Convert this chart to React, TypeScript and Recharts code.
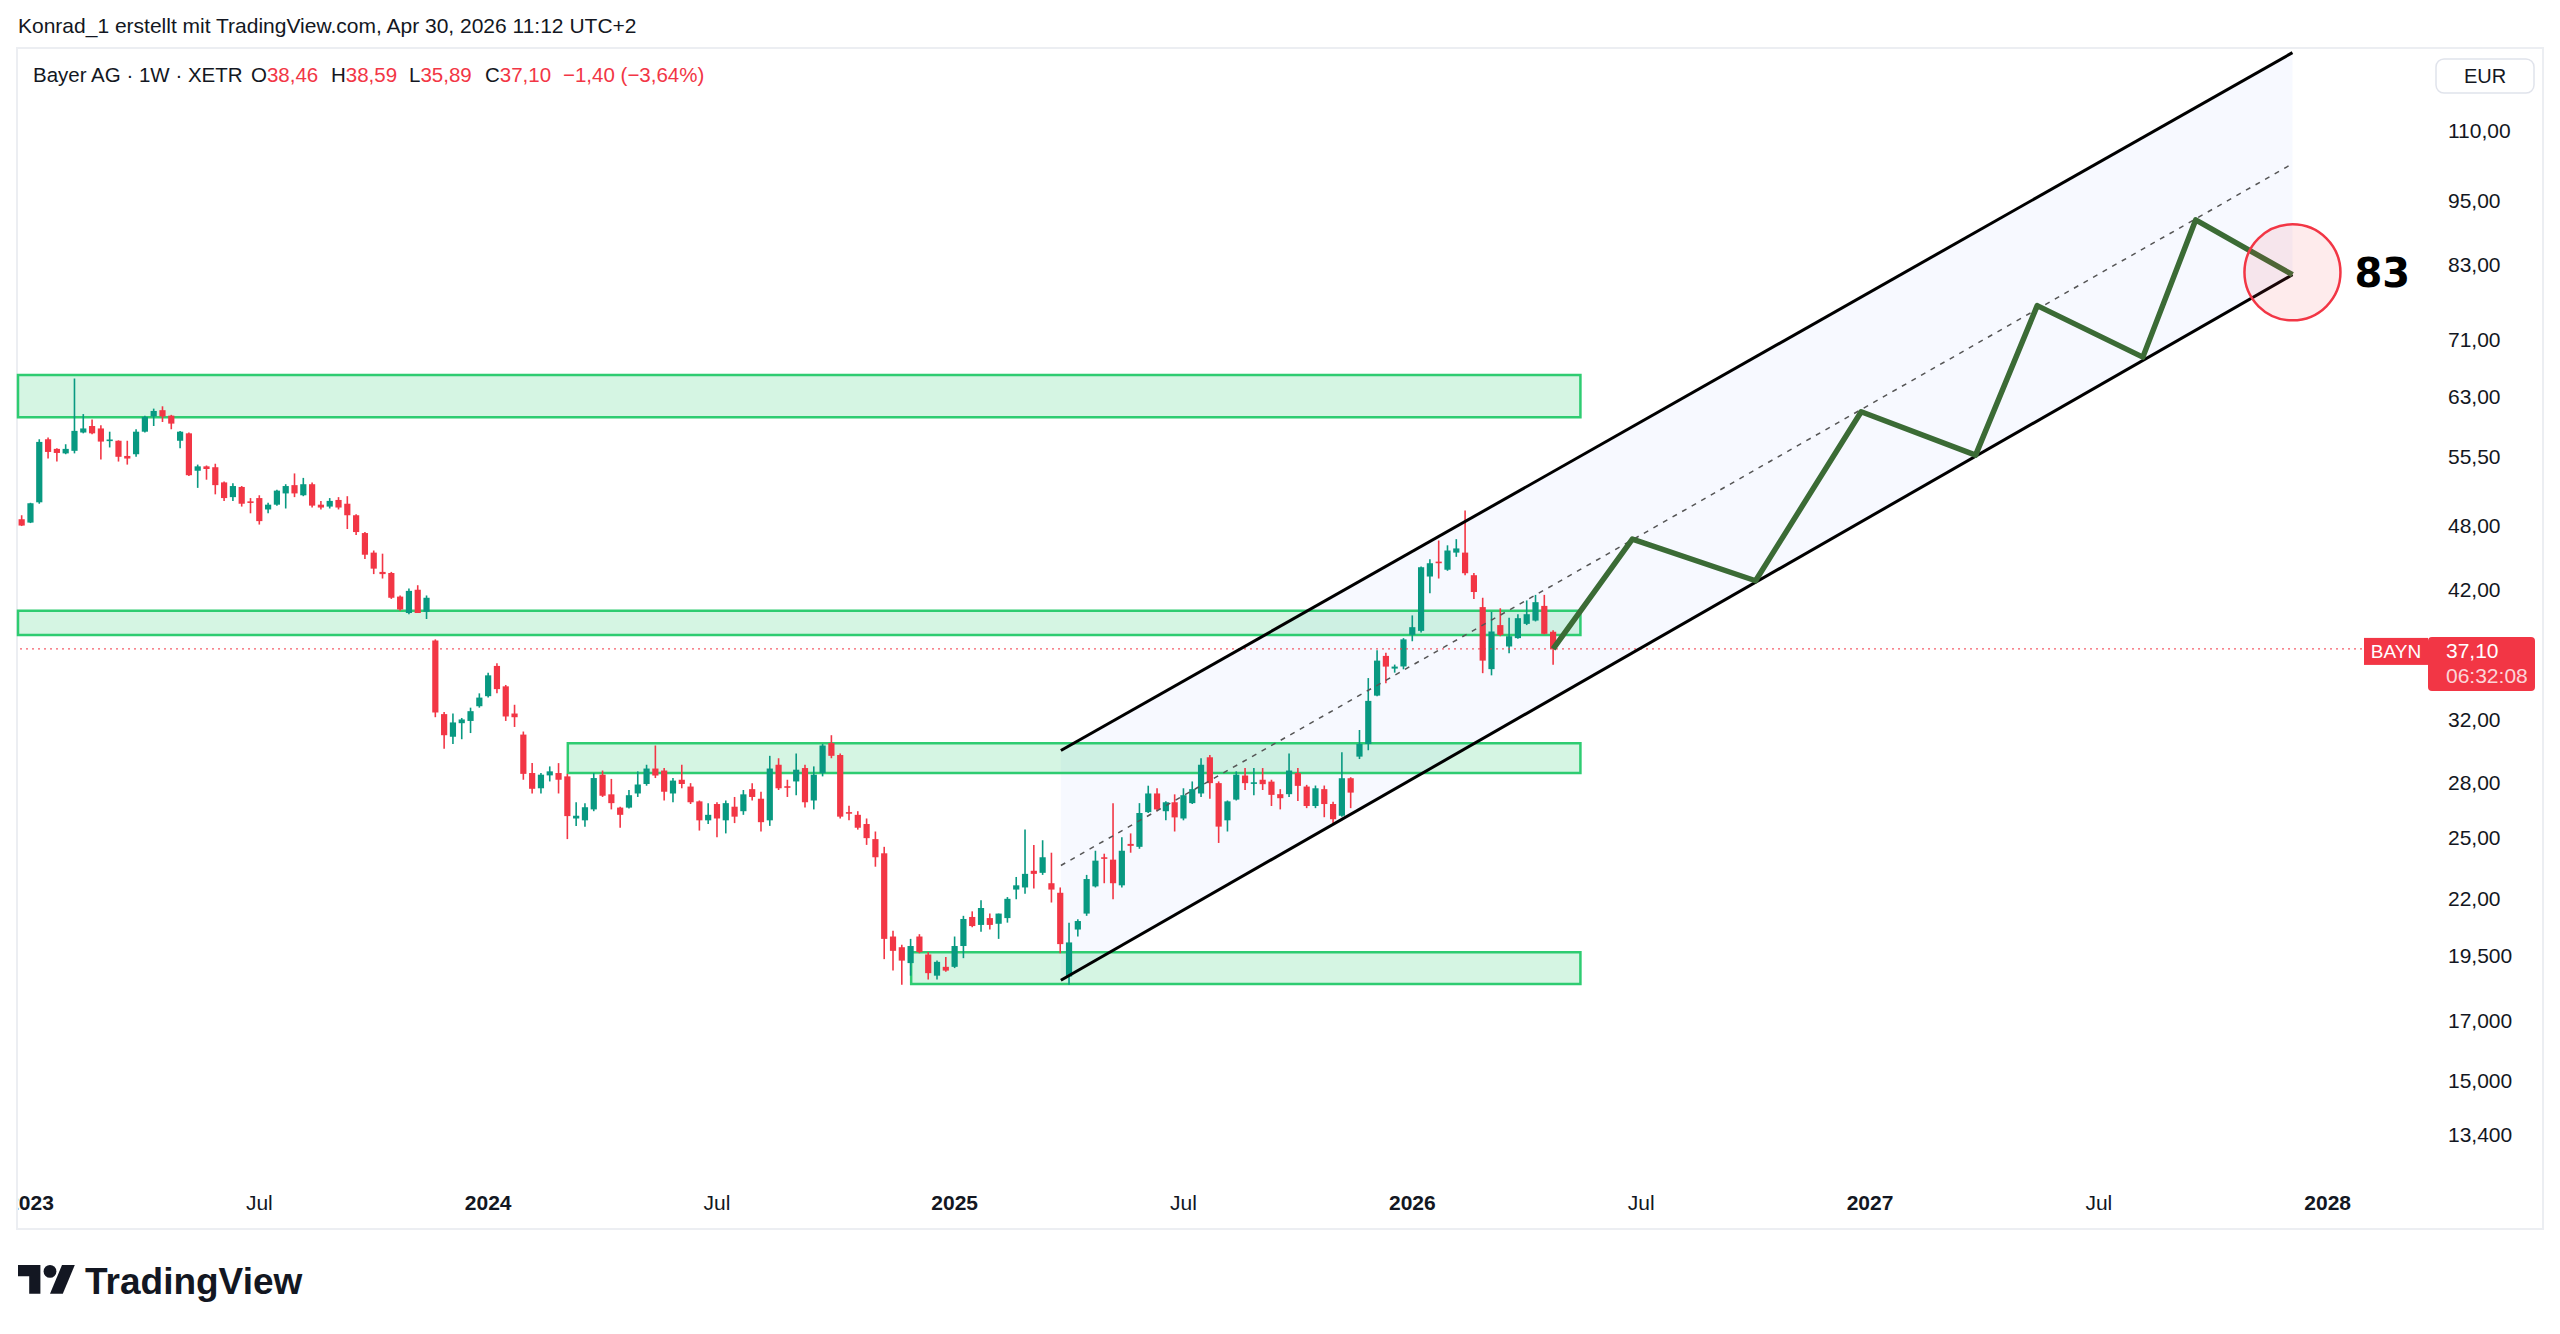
import React from "react";
import {
  ComposedChart,
  Bar,
  Line,
  Area,
  XAxis,
  YAxis,
  ReferenceArea,
  ReferenceLine,
  ReferenceDot,
} from "recharts";

const FONT = '"Liberation Sans", Arial, sans-serif';
const UP = "#089981";
const DOWN = "#f23645";
const INK = "#131722";

// weekly bars, index 0 = week of 2 Jan 2023; first bar is week -1
const FIRST_WEEK = -1;

const opens = [
  48.69, 48.35, 50.45, 57.58, 56.43, 55.9, 56.2, 58.4, 59.2, 58.9,
  57.45, 57.4, 55.6, 55.8, 58.5, 60.4, 61.2, 60.5, 57.4, 58.3,
  53.9, 54.4, 54.3, 52.6, 51.0, 52.1, 50.55, 50.9, 49.7, 50.2,
  51.4, 52.3, 51.2, 52.4, 50.2, 50.0, 50.7, 50.3, 49.1, 47.3,
  45.4, 43.6, 43.5, 41.4, 40.0, 42.0, 40.1, 37.76, 32.36, 30.86,
  31.75, 31.9, 32.9, 33.6, 35.8, 34.3, 32.4, 31.0, 28.6, 27.7,
  28.46, 28.6, 28.4, 26.0, 25.9, 26.5, 28.5, 27.35, 26.6, 26.6,
  27.4, 27.95, 28.87, 28.75, 27.4, 28.2, 27.8, 26.95, 25.9, 26.8,
  25.9, 26.65, 26.4, 27.65, 27.1, 25.9, 29.1, 27.82, 28.1, 28.9,
  27.0, 28.6, 30.45, 29.7, 26.35, 26.2, 25.7, 24.9, 24.17, 20.3,
  19.85, 19.2, 20.3, 19.55, 18.7, 19.05, 19.05, 19.9, 21.15, 20.8,
  21.1, 20.85, 21.1, 22.4, 22.5, 23.3, 23.2, 22.7, 22.25, 18.67,
  20.6, 21.3, 22.55, 23.97, 23.85, 22.6, 24.65, 24.5, 26.35, 27.4,
  26.4, 26.9, 26.0, 26.85, 27.4, 29.56, 28.0, 25.9, 27.05, 28.45,
  28.0, 28.2, 28.09, 27.36, 27.36, 28.6, 27.8, 26.69, 27.65, 26.8,
  26.15, 28.29, 29.6, 30.4, 33.64, 36.56, 35.6, 35.76, 38.21, 38.53,
  43.18, 44.55, 43.8, 45.4, 45.4, 43.3, 40.5, 35.56, 39.0, 37.29,
  37.95, 39.1, 39.37, 40.6, 38.46,
];

const highs = [
  49.1, 50.4, 57.58, 57.8, 56.5, 56.98, 65.4, 60.7, 60.0, 59.3,
  58.5, 57.45, 57.4, 58.8, 60.5, 61.4, 61.7, 60.6, 58.6, 58.4,
  54.6, 54.5, 54.7, 52.7, 52.5, 52.2, 50.9, 51.2, 50.4, 51.8,
  52.4, 53.6, 53.1, 52.6, 50.6, 50.9, 51.0, 51.1, 49.2, 47.4,
  45.6, 45.3, 43.6, 41.5, 42.1, 42.4, 41.5, 37.85, 32.5, 32.4,
  32.1, 32.8, 33.8, 35.3, 36.0, 34.4, 33.0, 31.2, 29.2, 28.6,
  29.0, 29.2, 28.55, 26.9, 26.85, 28.6, 28.75, 28.25, 26.65, 27.6,
  28.7, 29.1, 30.3, 28.9, 28.3, 29.1, 28.0, 27.0, 26.85, 26.9,
  27.0, 27.2, 27.6, 28.0, 27.5, 29.65, 29.5, 28.2, 29.8, 29.1,
  29.0, 30.4, 30.96, 29.8, 26.7, 26.4, 26.0, 25.3, 24.5, 20.55,
  19.95, 20.2, 20.4, 19.65, 19.3, 19.45, 20.3, 21.2, 21.4, 21.9,
  21.3, 21.3, 22.05, 23.0, 25.4, 24.6, 24.84, 24.2, 22.5, 20.9,
  21.05, 23.1, 24.3, 24.15, 26.85, 25.0, 25.2, 26.85, 27.85, 27.7,
  26.95, 27.35, 27.7, 28.1, 29.5, 29.7, 28.1, 27.0, 28.7, 28.9,
  28.9, 28.9, 28.2, 27.65, 29.8, 28.9, 27.9, 27.86, 27.86, 26.93,
  29.87, 28.35, 31.3, 34.9, 37.0, 36.8, 35.9, 37.95, 39.8, 44.1,
  44.78, 46.57, 46.1, 46.7, 49.6, 43.5, 41.3, 40.1, 40.4, 39.6,
  39.9, 41.07, 41.55, 41.55, 38.59,
];

const lows = [
  48.0, 48.3, 50.3, 55.3, 54.95, 55.8, 55.9, 58.3, 58.2, 55.2,
  56.6, 54.95, 54.6, 55.5, 58.4, 59.2, 59.7, 58.8, 56.5, 53.3,
  52.0, 52.9, 51.3, 50.6, 50.6, 50.0, 49.3, 48.15, 49.3, 50.1,
  49.8, 51.0, 51.1, 49.9, 49.7, 49.8, 49.7, 47.7, 47.1, 44.8,
  43.4, 43.0, 41.2, 40.2, 39.9, 40.0, 39.5, 32.15, 30.1, 30.4,
  30.7, 31.1, 32.8, 33.5, 33.8, 31.9, 31.5, 28.2, 27.4, 27.4,
  28.1, 27.4, 24.9, 25.6, 25.55, 26.4, 27.2, 26.5, 25.5, 26.55,
  27.2, 27.85, 28.3, 27.0, 26.9, 27.7, 26.8, 25.35, 25.7, 25.0,
  25.2, 25.75, 26.2, 27.0, 25.3, 25.6, 27.6, 27.2, 27.3, 26.6,
  26.5, 28.4, 29.5, 26.0, 25.9, 25.4, 24.6, 23.5, 19.36, 18.9,
  18.35, 18.7, 19.6, 18.55, 18.55, 18.85, 19.0, 19.4, 20.7, 20.5,
  20.6, 20.2, 20.9, 21.95, 22.2, 22.45, 23.1, 21.8, 19.6, 18.35,
  20.3, 21.2, 22.5, 22.7, 21.95, 22.5, 24.2, 24.4, 26.3, 26.4,
  25.9, 25.3, 25.9, 26.8, 27.2, 27.1, 24.7, 25.3, 27.0, 27.6,
  27.3, 27.6, 26.69, 26.5, 27.2, 26.97, 26.57, 26.57, 26.07, 25.74,
  26.1, 26.57, 29.45, 30.0, 33.6, 34.52, 35.3, 35.55, 37.7, 38.4,
  41.7, 43.0, 43.7, 45.0, 43.3, 41.2, 35.26, 35.1, 38.1, 36.76,
  37.9, 39.0, 39.3, 38.25, 35.89,
];

const closes = [
  48.05, 50.35, 57.26, 56.07, 55.95, 56.43, 58.6, 58.9, 58.3, 57.3,
  57.55, 55.5, 55.3, 58.5, 60.35, 61.1, 60.4, 59.5, 58.5, 53.4,
  54.4, 54.1, 52.3, 50.9, 52.2, 50.3, 50.45, 48.5, 50.2, 51.7,
  52.2, 51.4, 52.4, 50.1, 49.9, 50.6, 49.9, 49.1, 47.4, 45.2,
  43.9, 43.4, 41.3, 40.3, 41.9, 40.0, 41.3, 32.47, 30.96, 31.8,
  32.0, 32.56, 33.5, 35.1, 34.1, 32.2, 32.15, 28.55, 27.67, 28.5,
  28.7, 28.2, 26.13, 26.15, 26.62, 28.3, 27.27, 26.85, 26.2, 27.3,
  27.92, 28.87, 28.45, 27.5, 28.15, 27.95, 26.9, 25.9, 26.2, 26.0,
  26.85, 26.1, 27.35, 27.2, 25.8, 28.87, 27.7, 27.78, 28.8, 26.9,
  28.5, 30.3, 29.65, 26.1, 26.3, 25.5, 24.95, 23.97, 20.2, 19.7,
  19.3, 19.9, 19.65, 18.8, 19.25, 18.9, 19.9, 21.06, 20.75, 21.55,
  20.8, 21.3, 21.97, 22.6, 23.15, 23.15, 23.97, 22.4, 19.98, 20.05,
  20.97, 22.9, 23.8, 23.9, 22.7, 24.3, 24.55, 26.3, 27.4, 26.5,
  26.9, 26.06, 27.3, 27.65, 29.1, 28.0, 25.56, 26.95, 28.5, 28.0,
  28.05, 27.94, 27.32, 27.13, 28.75, 27.84, 26.69, 27.7, 26.8, 25.96,
  28.29, 27.45, 30.4, 33.27, 36.2, 35.75, 35.75, 37.85, 38.83, 44.03,
  44.4, 44.45, 45.6, 45.8, 43.48, 41.8, 36.2, 38.48, 38.21, 38.1,
  39.57, 39.9, 40.92, 38.29, 37.1,
];

// time scale labels sit on the first weekly bar of the period
const xTickWeeks = [0, 26, 52, 78, 105, 131, 157, 183, 209, 235, 261];
const xTickLabels = ["2023", "Jul", "2024", "Jul", "2025", "Jul", "2026", "Jul", "2027", "Jul", "2028"];

const yTicks = [110, 95, 83, 71, 63, 55.5, 48, 42, 32, 28, 25, 22, 19.5, 17, 15, 13.4];
const yTickLabels = [
  "110,00", "95,00", "83,00", "71,00", "63,00", "55,50", "48,00", "42,00",
  "32,00", "28,00", "25,00", "22,00", "19,500", "17,000", "15,000", "13,400",
];

// green support / resistance boxes (null = from the left edge)
const zoneFrom = [null, null, 61.05, 100.06];
const zoneTo = [176.1, 176.1, 176.1, 176.1];
const zoneLow = [60.3, 38.2, 28.6, 18.38];
const zoneHigh = [65.9, 40.2, 30.45, 19.64];

// parallel channel anchors
const channelWeeks = [117.07, 257];
const channelLow = [18.52, 81.3];
const channelHigh = [29.98, 129.5];
const channelMid = [23.56, 102.6];

// projected path
const projWeeks = [173, 182, 196, 208, 221, 228, 240, 246, 257];
const projPrices = [37.1, 46.7, 42.8, 61.0, 55.7, 76.2, 68.4, 91.2, 81.3];

const lastPrice = 37.1;
const target = 83;
const targetPrice = 81.7;

const rows = new Map<number, any>();
const row = (w: number) => {
  if (!rows.has(w)) rows.set(w, { w });
  return rows.get(w);
};
opens.forEach((o, i) => {
  const r = row(FIRST_WEEK + i);
  r.o = o;
  r.h = highs[i];
  r.l = lows[i];
  r.c = closes[i];
});
channelWeeks.forEach((w, i) => {
  row(w).band = [channelLow[i], channelHigh[i]];
});
projWeeks.forEach((w, i) => {
  row(w).proj = projPrices[i];
});
const data = [...rows.values()].sort((a, b) => a.w - b.w);

const fmt = (v: number) => v.toFixed(2).replace(".", ",");

function Candle(props: any) {
  const { x, y, width, height, payload } = props;
  if (!payload || payload.o == null || !isFinite(y) || !isFinite(height)) return null;
  const { o, h, l, c } = payload;
  const top = Math.min(y, y + height);
  const span = Math.abs(height);
  const lnH = Math.log(h);
  const lnL = Math.log(l);
  // log scale: pixel position is linear in ln(price) between high and low
  const py = (p: number) => (lnH === lnL ? top : top + ((lnH - Math.log(p)) / (lnH - lnL)) * span);
  const cx = x + width / 2;
  const color = c >= o ? UP : DOWN;
  const bTop = py(Math.max(o, c));
  const bBot = py(Math.min(o, c));
  return (
    <g>
      <line x1={cx} x2={cx} y1={top} y2={top + span} stroke={color} strokeWidth={1.6} />
      <rect x={cx - 3.1} y={bTop} width={6.2} height={Math.max(bBot - bTop, 1.6)} fill={color} />
    </g>
  );
}

function XTick(props: any) {
  const { x, y, payload } = props;
  const i = xTickWeeks.indexOf(payload.value);
  const label = xTickLabels[i] ?? "";
  return (
    <text
      x={x}
      y={y}
      dy="0.35em"
      textAnchor="middle"
      fontFamily={FONT}
      fontSize={21}
      fontWeight={label === "Jul" ? 400 : 700}
      fill={INK}
      clipPath="url(#paneClip)"
    >
      {label}
    </text>
  );
}

function YTick(props: any) {
  const { x, y, payload } = props;
  const i = yTicks.indexOf(payload.value);
  return (
    <text x={x} y={y} dy="0.35em" textAnchor="start" fontFamily={FONT} fontSize={21} fill={INK}>
      {yTickLabels[i]}
    </text>
  );
}

function PriceTag(props: any) {
  const vb = props.viewBox;
  if (!vb) return null;
  const right = vb.x + vb.width;
  const y = vb.y;
  return (
    <g fontFamily={FONT}>
      <rect x={right - 64} y={y - 11} width={64} height={27} fill={DOWN} />
      <text x={right - 32} y={y + 2.5} dy="0.35em" textAnchor="middle" fill="#fff" fontSize={19}>
        BAYN
      </text>
      <rect x={right} y={y - 12} width={107} height={54} rx={4} fill={DOWN} />
      <text x={right + 18} y={y + 2} dy="0.35em" fill="#fff" fontSize={21}>
        {fmt(lastPrice)}
      </text>
      <text x={right + 18} y={y + 27} dy="0.35em" fill="#fff" fillOpacity={0.8} fontSize={21}>
        06:32:08
      </text>
    </g>
  );
}

function TargetMark(props: any) {
  const { cx, cy, r } = props;
  return (
    <g>
      <circle cx={cx} cy={cy} r={r} fill={DOWN} fillOpacity={0.1} stroke={DOWN} strokeWidth={2.5} />
      <text x={cx + 62} y={cy} dy="0.36em" fontFamily='"DejaVu Sans", sans-serif' fontWeight={700} fontSize={40} fill="#000">
        {target}
      </text>
    </g>
  );
}

export default function App() {
  return (
    <div style={{ position: "absolute", left: 0, top: 0, width: 2560, height: 1334, background: "#fff", overflow: "hidden" }}>
      <div
        style={{
          position: "absolute",
          left: 16,
          top: 47,
          width: 2528,
          height: 1183,
          border: "2px solid #eceef2",
          boxSizing: "border-box",
        }}
      />
      <div style={{ position: "absolute", left: 0, top: 0 }}>
        <ComposedChart width={2560} height={1334} data={data} margin={{ top: 49, right: 18, bottom: 106, left: 18 }}>
          <defs>
            <clipPath id="paneClip">
              <rect x={18} y={0} width={2410} height={1334} />
            </clipPath>
          </defs>
          <XAxis
            type="number"
            dataKey="w"
            domain={[-1.42, 272.4]}
            allowDataOverflow
            ticks={xTickWeeks}
            interval={0}
            tick={(p: any) => <XTick {...p} />}
            tickLine={false}
            axisLine={false}
            tickSize={0}
            tickMargin={24}
            height={49}
          />
          <YAxis
            orientation="right"
            type="number"
            scale="log"
            domain={[12.21, 130.5]}
            allowDataOverflow
            ticks={yTicks}
            interval={0}
            width={114}
            tick={(p: any) => <YTick {...p} />}
            tickLine={false}
            axisLine={false}
            tickSize={0}
            tickMargin={20}
          />
          <Area
            dataKey="band"
            type="linear"
            stroke="none"
            fill="#2962ff"
            fillOpacity={0.035}
            connectNulls
            dot={false}
            activeDot={false}
            isAnimationActive={false}
          />
          {zoneLow.map((lo, i) => (
            <ReferenceArea
              key={i}
              x1={zoneFrom[i] ?? undefined}
              x2={zoneTo[i]}
              y1={lo}
              y2={zoneHigh[i]}
              fill="#2ecc71"
              fillOpacity={0.2}
              stroke="#2ecc71"
              strokeWidth={2.5}
              ifOverflow="visible"
            />
          ))}
          <Bar
            dataKey={(d: any) => (d.o != null ? [d.l, d.h] : null)}
            barSize={7}
            shape={(p: any) => <Candle {...p} />}
            isAnimationActive={false}
          />
          <ReferenceLine
            y={lastPrice}
            stroke={DOWN}
            strokeOpacity={0.8}
            strokeWidth={1.2}
            strokeDasharray="2 4"
            label={(p: any) => <PriceTag {...p} />}
          />
          <ReferenceLine
            segment={[
              { x: channelWeeks[0], y: channelHigh[0] },
              { x: channelWeeks[1], y: channelHigh[1] },
            ]}
            stroke="#000"
            strokeWidth={3}
            ifOverflow="visible"
          />
          <ReferenceLine
            segment={[
              { x: channelWeeks[0], y: channelLow[0] },
              { x: channelWeeks[1], y: channelLow[1] },
            ]}
            stroke="#000"
            strokeWidth={3}
            ifOverflow="visible"
          />
          <ReferenceLine
            segment={[
              { x: channelWeeks[0], y: channelMid[0] },
              { x: channelWeeks[1], y: channelMid[1] },
            ]}
            stroke="#555"
            strokeWidth={1.5}
            strokeDasharray="5 6"
            ifOverflow="visible"
          />
          <Line
            dataKey="proj"
            type="linear"
            stroke="#3b6b35"
            strokeWidth={5.5}
            strokeLinejoin="round"
            dot={false}
            activeDot={false}
            connectNulls
            isAnimationActive={false}
          />
          <ReferenceDot
            x={channelWeeks[1]}
            y={targetPrice}
            r={48}
            ifOverflow="visible"
            shape={(p: any) => <TargetMark {...p} />}
          />
        </ComposedChart>
      </div>
      <svg width={2560} height={1334} style={{ position: "absolute", left: 0, top: 0, pointerEvents: "none" }}>
        <text x={18} y={26} dy="0.35em" fontFamily={FONT} fontSize={21} fill={INK}>
          Konrad_1 erstellt mit TradingView.com, Apr 30, 2026 11:12 UTC+2
        </text>
        <g fontFamily={FONT} fontSize={20.5} fill={INK}>
          <text x={33} y={75} dy="0.35em">Bayer AG · 1W · XETR</text>
          <text x={251} y={75} dy="0.35em">
            O<tspan fill={DOWN}>38,46</tspan>
          </text>
          <text x={331} y={75} dy="0.35em">
            H<tspan fill={DOWN}>38,59</tspan>
          </text>
          <text x={409} y={75} dy="0.35em">
            L<tspan fill={DOWN}>35,89</tspan>
          </text>
          <text x={485} y={75} dy="0.35em">
            C<tspan fill={DOWN}>{fmt(lastPrice)}</tspan>
          </text>
          <text x={563} y={75} dy="0.35em" fill={DOWN}>
            −1,40 (−3,64%)
          </text>
        </g>
        <rect x={2436} y={59} width={98} height={34} rx={8} fill="#fff" stroke="#e0e3eb" strokeWidth={1.5} />
        <text x={2485} y={76} dy="0.35em" textAnchor="middle" fontFamily={FONT} fontSize={20} fill={INK}>
          EUR
        </text>
        <g transform="translate(18,1258.6) scale(1.6)" fill={INK}>
          <path d="M14 22H7V11H0V4h14v18z" />
          <circle cx={20} cy={8} r={4} />
          <path d="M28 22h-8l7.5-18h8z" />
        </g>
        <text x={85} y={1294} fontFamily={FONT} fontSize={37} fontWeight={700} fill={INK}>
          TradingView
        </text>
      </svg>
    </div>
  );
}
